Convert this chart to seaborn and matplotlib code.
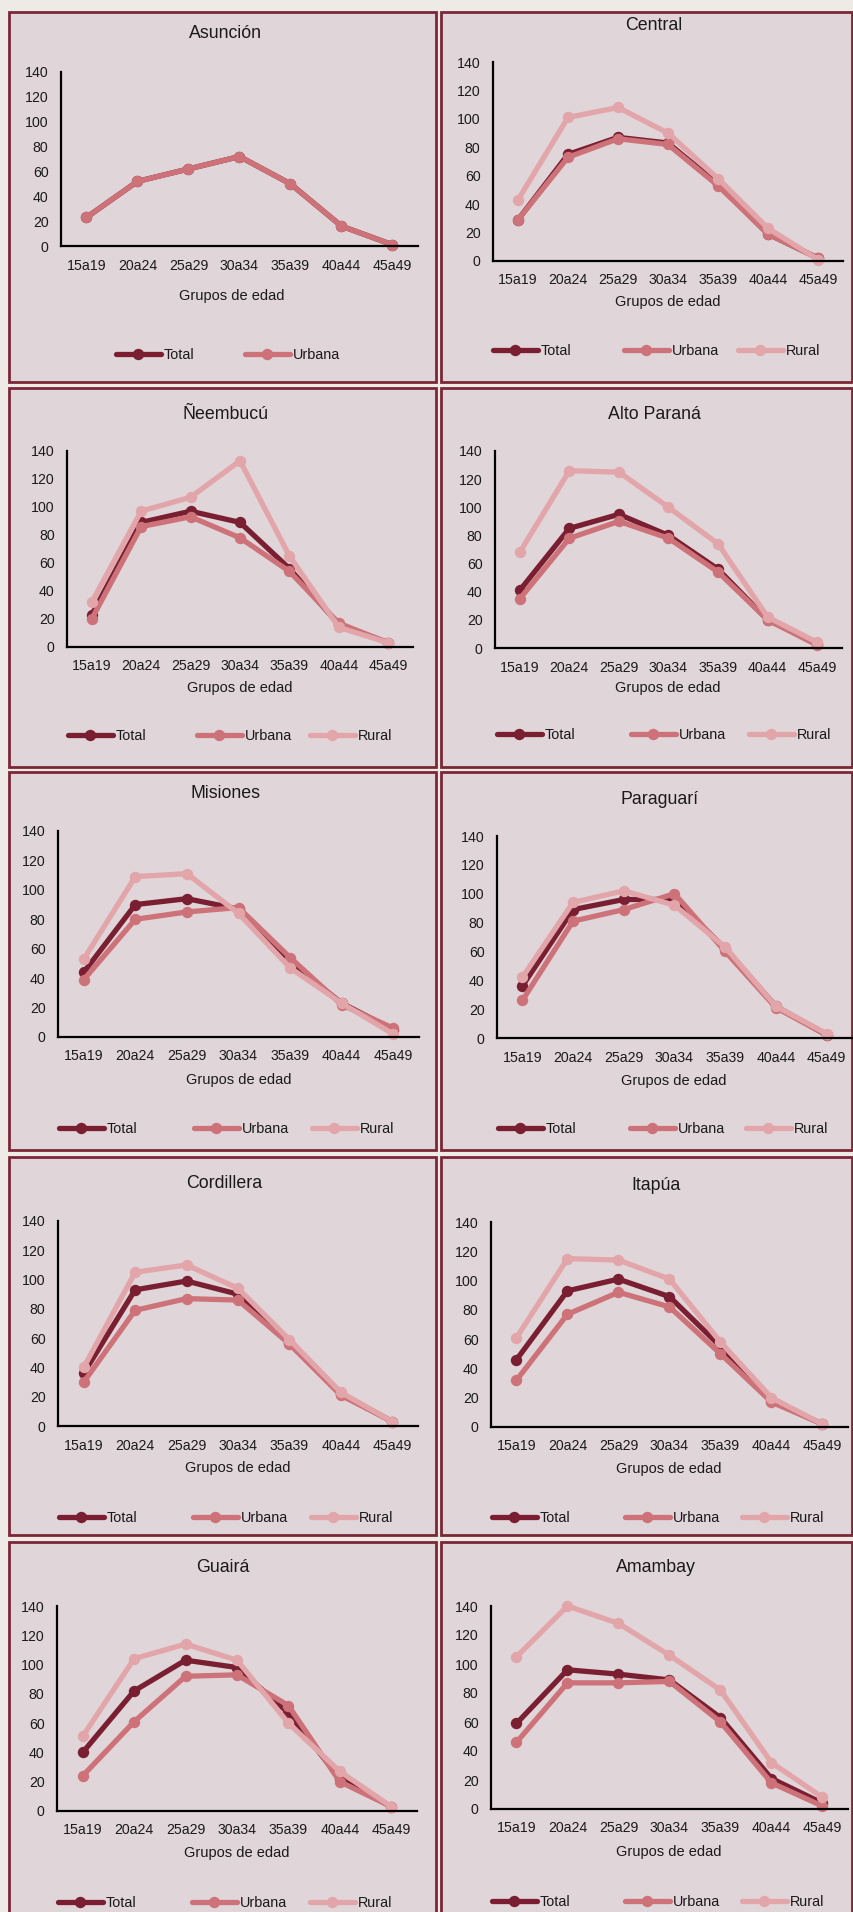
import matplotlib
matplotlib.use("Agg")
import matplotlib.pyplot as plt
from matplotlib.patches import Rectangle
import numpy as np
import pandas as pd
import seaborn as sns

sns.set_theme(style="white")
plt.rcParams["font.family"] = ["Liberation Sans", "DejaVu Sans"]

# ---------------------------------------------------------------- data
edades = ["15a19", "20a24", "25a29", "30a34", "35a39", "40a44", "45a49"]
series = ["Total", "Urbana", "Rural"]
departamentos = ["Asunción", "Central", "Ñeembucú", "Alto Paraná", "Misiones",
                 "Paraguarí", "Cordillera", "Itapúa", "Guairá", "Amambay"]

asuncion_total = [23, 52, 62, 72, 50, 16, 1]
asuncion_urbana = [23, 52, 62, 72, 50, 16, 1]

central_total = [29, 75, 87, 83, 54, 19, 2]
central_urbana = [29, 73, 86, 82, 53, 19, 2]
central_rural = [43, 101, 108, 90, 58, 23, 1]

neembucu_total = [23, 89, 97, 89, 56, 16, 3]
neembucu_urbana = [20, 86, 93, 78, 54, 17, 3]
neembucu_rural = [32, 97, 107, 133, 65, 14, 3]

alto_parana_total = [41, 85, 95, 80, 56, 20, 3]
alto_parana_urbana = [35, 78, 90, 78, 54, 20, 2]
alto_parana_rural = [68, 126, 125, 100, 74, 22, 4]

misiones_total = [44, 90, 94, 87, 51, 23, 5]
misiones_urbana = [39, 80, 85, 88, 54, 22, 6]
misiones_rural = [53, 109, 111, 84, 47, 23, 2]

paraguari_total = [36, 89, 96, 96, 62, 22, 2]
paraguari_urbana = [26, 81, 89, 100, 60, 21, 2]
paraguari_rural = [42, 94, 102, 92, 63, 22, 3]

cordillera_total = [36, 93, 99, 90, 57, 22, 3]
cordillera_urbana = [30, 79, 87, 86, 56, 21, 3]
cordillera_rural = [40, 105, 110, 94, 59, 23, 3]

itapua_total = [46, 93, 101, 89, 55, 18, 2]
itapua_urbana = [32, 77, 92, 82, 50, 17, 2]
itapua_rural = [61, 115, 114, 101, 58, 20, 2]

guaira_total = [40, 82, 103, 98, 67, 22, 3]
guaira_urbana = [24, 61, 92, 93, 72, 20, 3]
guaira_rural = [51, 104, 114, 103, 60, 27, 3]

amambay_total = [59, 96, 93, 89, 63, 21, 4]
amambay_urbana = [46, 87, 87, 88, 60, 18, 2]
amambay_rural = [105, 140, 128, 106, 82, 32, 8]

valores = {
    "Asunción": {"Total": asuncion_total, "Urbana": asuncion_urbana},
    "Central": {"Total": central_total, "Urbana": central_urbana, "Rural": central_rural},
    "Ñeembucú": {"Total": neembucu_total, "Urbana": neembucu_urbana, "Rural": neembucu_rural},
    "Alto Paraná": {"Total": alto_parana_total, "Urbana": alto_parana_urbana, "Rural": alto_parana_rural},
    "Misiones": {"Total": misiones_total, "Urbana": misiones_urbana, "Rural": misiones_rural},
    "Paraguarí": {"Total": paraguari_total, "Urbana": paraguari_urbana, "Rural": paraguari_rural},
    "Cordillera": {"Total": cordillera_total, "Urbana": cordillera_urbana, "Rural": cordillera_rural},
    "Itapúa": {"Total": itapua_total, "Urbana": itapua_urbana, "Rural": itapua_rural},
    "Guairá": {"Total": guaira_total, "Urbana": guaira_urbana, "Rural": guaira_rural},
    "Amambay": {"Total": amambay_total, "Urbana": amambay_urbana, "Rural": amambay_rural},
}

# ---------------------------------------------------------------- style
colores = {"Total": "#7A1F32", "Urbana": "#CD7278", "Rural": "#E2A5A9"}
FONDO = "#EEEAE5"
PANEL = "#E0D5D8"
BORDE = "#7B2737"
TEXTO = "#1A1A1A"

W, H = 854, 1912

# panel frames (pixels)
col_x = [(9, 436), (441, 852)]
row_y = [(12, 382), (388, 767), (772, 1150), (1157, 1535), (1542, 1935)]

# plot areas: left, right, top (=140), bottom (=0) in pixels
areas = [(61, 418, 72, 246), (493, 843, 62, 261),
         (67, 413, 451, 647), (495, 842, 451, 648),
         (58, 419, 831, 1037), (497, 852, 836, 1038),
         (58, 418, 1221, 1426), (491, 848, 1222, 1427),
         (57, 417, 1606, 1811), (491, 848, 1606, 1809)]
titulos_xy = [(225, 34), (654, 26), (226, 415), (654, 415), (225, 793),
              (660, 799), (224, 1183), (656, 1186), (223, 1568), (656, 1568)]
xlabel_xy = [(232, 296), (668, 302), (240, 688), (668, 688), (239, 1080),
             (674, 1081), (238, 1468), (669, 1469), (237, 1853), (669, 1852)]
leyenda_y = [355, 351, 736, 735, 1129, 1129, 1518, 1518, 1903, 1902]
leyenda_x = [(116, 245), (493, 624, 738), (68, 197, 310), (497, 631, 749),
             (59, 194, 312), (498, 630, 746), (59, 193, 311), (492, 625, 742),
             (58, 192, 310), (492, 625, 742)]

fig = plt.figure(figsize=(W / 100, H / 100), dpi=100)
fig.patch.set_facecolor(FONDO)

for r, (y0, y1) in enumerate(row_y):
    for c, (x0, x1) in enumerate(col_x):
        fig.add_artist(Rectangle((x0 / W, 1 - y1 / H), (x1 - x0) / W, (y1 - y0) / H,
                                 transform=fig.transFigure, facecolor=PANEL,
                                 edgecolor=BORDE, linewidth=2.0, zorder=-5))

for i, depto in enumerate(departamentos):
    l, r, t, b = areas[i]
    ax = fig.add_axes([l / W, 1 - b / H, (r - l) / W, (b - t) / H])
    ax.set_facecolor("none")

    lineas = []
    for s in series:
        if s not in valores[depto]:
            continue
        df = pd.DataFrame({"edad": edades, "valor": valores[depto][s]})
        sns.lineplot(data=df, x="edad", y="valor", ax=ax, color=colores[s],
                     linewidth=3.8, marker="o", markersize=8.2, markeredgewidth=0,
                     sort=False, legend=False, clip_on=False)
        ln = ax.get_lines()[-1]
        ln.set_label(s)
        lineas.append(ln)

    ax.set_xlim(-0.5, len(edades) - 0.5)
    ax.set_ylim(0, 140)
    ax.set_yticks(np.arange(0, 141, 20))
    ax.set_ylabel("")
    for side in ("top", "right"):
        ax.spines[side].set_visible(False)
    for side in ("left", "bottom"):
        ax.spines[side].set_color("black")
        ax.spines[side].set_linewidth(1.6)
    ax.tick_params(axis="both", length=0, labelsize=10.2, colors=TEXTO, pad=9)

    def ax_frac(px, py):
        return (px - l) / (r - l), (b - py) / (b - t)

    xa, ya = ax_frac(*xlabel_xy[i])
    ax.set_xlabel("Grupos de edad", fontsize=10.5, color=TEXTO)
    ax.xaxis.label.set_va("center")
    ax.xaxis.set_label_coords(xa, ya)

    ta, tb = ax_frac(*titulos_xy[i])
    ax.set_title(depto, fontsize=12.8, color=TEXTO, x=ta, y=tb, va="center", pad=0)

    for ln, hx in zip(lineas, leyenda_x[i]):
        fig.legend(handles=[ln], labels=[ln.get_label()], loc="center left",
                   bbox_to_anchor=(hx / W, 1 - leyenda_y[i] / H),
                   bbox_transform=fig.transFigure, frameon=False, borderpad=0,
                   borderaxespad=0, handlelength=3.1, handletextpad=0.2,
                   fontsize=10.4, labelcolor=TEXTO, numpoints=1)

fig.savefig("out.png", dpi=100, facecolor=FONDO)
